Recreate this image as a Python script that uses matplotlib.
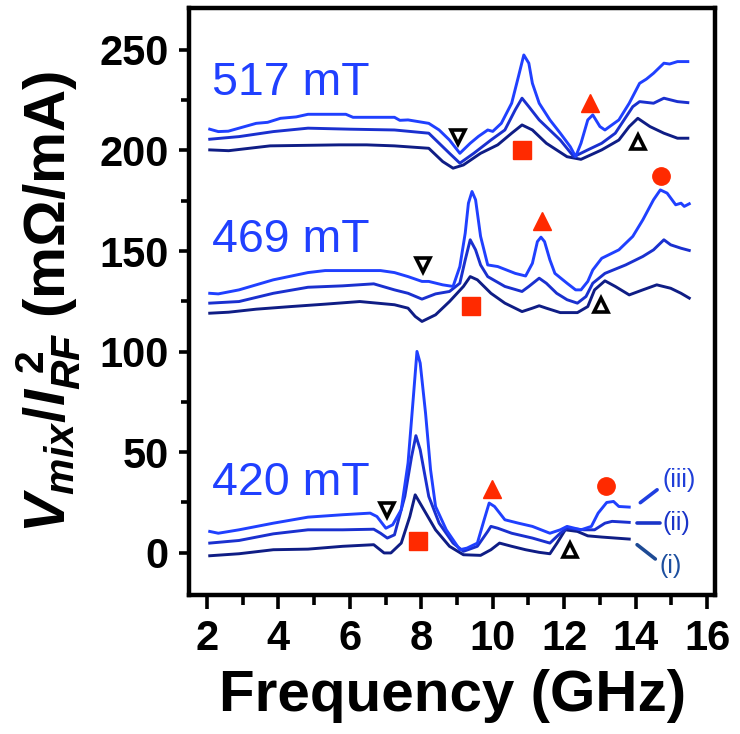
import matplotlib
matplotlib.use("Agg")
import matplotlib.pyplot as plt
from matplotlib.ticker import MultipleLocator

plt.rcParams['font.family'] = ['Liberation Sans', 'DejaVu Sans']
plt.rcParams['mathtext.fontset'] = 'custom'
plt.rcParams['mathtext.it'] = 'Liberation Sans:italic:bold'
plt.rcParams['mathtext.rm'] = 'Liberation Sans:bold'
plt.rcParams['mathtext.bf'] = 'Liberation Sans:bold'

# ---------------- data: mixing voltage spectra at three fields ----------------
# 517 mT
f517_iii = [2.08, 2.32, 2.60, 2.90, 3.38, 3.70, 4.06, 4.50, 4.83, 5.89, 6.09, 6.80, 7.25, 7.40, 7.63,
            8.21, 8.50, 8.79, 9.08, 9.37, 9.60, 9.86, 10.00, 10.24, 10.53, 10.72, 10.87, 11.01, 11.11,
            11.30, 11.60, 11.89, 12.17, 12.32, 12.47, 12.66, 12.80, 13.00, 13.14, 13.53, 13.82, 14.11,
            14.30, 14.50, 14.79, 14.95, 15.17, 15.46]
v517_iii = [210.6, 209.4, 209.6, 211.1, 213.5, 214.0, 216.0, 216.7, 218.0, 218.0, 216.5, 216.5, 216.5, 215.0, 215.2,
            213.5, 210.2, 205.2, 198.6, 203.6, 207.0, 210.2, 209.5, 213.5, 223.5, 236.8, 247.5, 243.4, 233.4,
            223.5, 215.2, 208.6, 201.9, 196.9, 203.6, 215.2, 217.7, 211.9, 210.2, 215.2, 223.5, 233.4,
            235.5, 238.4, 243.4, 243.0, 244.2, 244.2]
f517_ii = [2.08, 2.90, 3.86, 4.83, 5.99, 7.25, 8.21, 8.79, 9.08, 9.47, 9.95, 10.34, 10.63, 10.82,
           11.01, 11.30, 11.89, 12.27, 12.66, 13.05, 13.43, 13.92, 14.11, 14.50, 14.79, 15.17, 15.46]
v517_ii = [205.6, 206.9, 209.4, 211.1, 210.6, 210.2, 208.6, 198.6, 193.7, 198.6, 205.2, 210.2, 220.2, 226.0,
           221.8, 215.2, 205.2, 196.9, 200.3, 203.6, 208.6, 221.8, 224.3, 223.5, 226.0, 224.3, 223.8]
f517_i = [2.08, 2.61, 3.77, 5.70, 6.47, 7.25, 8.21, 8.60, 8.89, 9.18, 9.66, 10.14, 10.53, 10.82,
          11.11, 11.50, 12.08, 12.47, 13.05, 13.53, 13.82, 14.06, 14.40, 14.79, 15.17, 15.46]
v517_i = [200.3, 199.9, 202.3, 202.8, 202.8, 202.3, 201.1, 194.5, 191.2, 192.8, 198.6, 202.8, 208.6, 212.7,
          210.2, 203.6, 196.9, 195.6, 200.3, 205.2, 211.9, 216.0, 211.9, 208.6, 206.1, 206.1]

# 469 mT
f469_iii = [2.08, 2.32, 2.90, 3.86, 4.83, 5.31, 6.86, 7.25, 7.63, 8.02, 8.21, 8.60, 8.89, 9.08, 9.23,
            9.32, 9.42, 9.52, 9.66, 9.86, 10.14, 10.63, 10.92, 11.11, 11.25, 11.35, 11.45, 11.60, 11.74,
            12.08, 12.32, 12.47, 12.66, 12.80, 13.05, 13.53, 13.92, 14.20, 14.50, 14.69, 14.88, 15.12,
            15.27, 15.36, 15.50]
v469_iii = [129.0, 128.7, 130.7, 135.7, 139.3, 140.3, 140.3, 139.3, 137.3, 134.9, 134.9, 133.2, 132.4, 142.3, 158.9,
            173.8, 179.6, 175.5, 157.3, 143.1, 142.3, 138.9, 137.6, 143.9, 154.7, 156.9, 154.7, 145.6, 138.9,
            134.0, 130.7, 130.7, 134.9, 140.6, 146.4, 150.6, 157.3, 165.5, 175.5, 180.4, 178.8, 173.0,
            173.8, 172.2, 173.5]
f469_ii = [2.08, 2.90, 3.86, 4.83, 5.80, 6.67, 7.25, 7.63, 8.02, 8.40, 8.79, 9.08, 9.23, 9.37, 9.52,
           9.66, 9.86, 10.34, 10.82, 11.01, 11.30, 11.50, 11.79, 12.08, 12.37, 12.61, 12.80, 13.14,
           13.72, 14.20, 14.50, 14.79, 14.98, 15.27, 15.50]
v469_ii = [124.1, 124.9, 129.0, 132.0, 132.7, 133.7, 130.7, 129.0, 126.1, 128.7, 129.9, 134.0, 145.6, 155.6, 150.6,
           143.1, 137.3, 132.4, 129.9, 132.4, 136.5, 134.0, 129.0, 125.8, 124.1, 127.4, 134.0, 138.9,
           143.1, 147.3, 150.6, 155.6, 153.1, 151.4, 150.3]
f469_i = [2.08, 2.61, 3.38, 4.35, 5.31, 6.28, 7.25, 7.63, 7.83, 8.02, 8.40, 8.79, 9.18, 9.37, 9.57,
          9.95, 10.34, 10.82, 11.11, 11.30, 11.50, 11.89, 12.37, 12.66, 12.85, 13.14, 13.43, 13.82,
          14.20, 14.59, 14.98, 15.27, 15.50]
v469_i = [119.1, 119.6, 121.1, 122.4, 123.6, 124.9, 123.3, 121.6, 117.5, 115.0, 118.3, 124.9, 132.4, 137.3, 135.7,
          129.0, 124.1, 119.9, 121.6, 122.8, 121.6, 119.4, 119.4, 122.4, 130.7, 135.2, 132.4, 128.2,
          130.7, 133.2, 131.5, 129.0, 126.6]

# 420 mT
f420_iii = [2.08, 2.32, 2.90, 3.86, 4.83, 5.80, 6.57, 6.76, 7.01, 7.20, 7.44, 7.63, 7.78, 7.88, 7.97,
            8.12, 8.26, 8.40, 8.70, 9.08, 9.28, 9.57, 9.76, 9.90, 10.05, 10.34, 10.72, 11.11, 11.60,
            11.89, 12.08, 12.47, 12.76, 12.95, 13.19, 13.38, 13.53, 13.82]
v420_iii = [10.6, 9.7, 11.4, 14.7, 17.7, 18.9, 19.7, 18.0, 12.2, 13.9, 21.4, 44.6, 77.7, 100.1, 94.3,
            69.4, 41.3, 23.0, 11.4, 1.5, 2.3, 4.8, 16.4, 24.7, 23.0, 16.4, 14.7, 13.1, 9.7,
            11.4, 13.1, 11.4, 13.1, 19.7, 25.0, 25.5, 23.0, 22.7]
f420_ii = [2.08, 2.90, 3.86, 4.83, 5.80, 6.67, 6.86, 7.05, 7.25, 7.54, 7.73, 7.85, 7.97, 8.21, 8.50,
           8.89, 9.18, 9.57, 9.86, 9.95, 10.14, 10.53, 11.11, 11.60, 11.89, 12.08, 12.56, 12.85,
           13.14, 13.34, 13.82]
v420_ii = [4.8, 6.1, 9.4, 11.4, 11.4, 11.7, 9.7, 7.3, 8.9, 28.0, 47.9, 58.2, 51.2, 28.0, 14.7,
           4.8, 0.7, 3.2, 10.6, 13.1, 12.2, 9.7, 7.3, 4.8, 9.7, 12.2, 11.4, 11.4,
           14.7, 15.6, 15.1]
f420_i = [2.08, 2.90, 3.86, 4.83, 5.80, 6.67, 6.96, 7.15, 7.44, 7.68, 7.83, 8.02, 8.40, 8.79, 9.18,
          9.66, 9.95, 10.19, 10.53, 10.92, 11.30, 11.60, 11.80, 12.03, 12.37, 12.66, 13.05, 13.43, 13.82]
v420_i = [-1.5, -0.5, 1.5, 1.8, 3.2, 4.0, -0.1, -0.1, 4.8, 18.0, 28.8, 23.0, 11.4, 3.2, -1.0,
          -1.3, 1.5, 4.8, 3.2, 1.5, 0.2, -0.5, 4.8, 11.4, 10.6, 8.4, 7.8, 7.3, 6.8]

field_labels = ["517 mT", "469 mT", "420 mT"]
field_label_y = [233.6, 155.6, 34.6]
trace_names = ["(iii)", "(ii)", "(i)"]

# mode markers: (frequency, level)
mode_square = [(10.82, 200.3), (9.39, 122.8), (7.90, 5.7)]
mode_triangle = [(12.71, 223.5), (11.37, 164.7), (9.97, 31.7)]
mode_circle = [(14.71, 187.4), (13.16, 33.1)]
mode_open_down = [(9.03, 206.9), (8.05, 143.1), (7.03, 21.4)]
mode_open_up = [(14.06, 204.4), (13.02, 123.3), (12.16, 1.5)]

# ---------------- styling ----------------
c_iii = '#2040ff'
c_ii = '#1a30cf'
c_i = '#0f1d85'
c_red = '#ff2a00'
lw = 2.1

fig = plt.figure(figsize=(7.4, 7.34), dpi=100)
ax = fig.add_axes([0.2554, 0.1894, 0.7108, 0.7993])

groups = [
    (f517_iii, v517_iii, f517_ii, v517_ii, f517_i, v517_i),
    (f469_iii, v469_iii, f469_ii, v469_ii, f469_i, v469_i),
    (f420_iii, v420_iii, f420_ii, v420_ii, f420_i, v420_i),
]
for g in groups:
    ax.plot(g[4], g[5], color=c_i, lw=lw, solid_joinstyle='round', zorder=3)
    ax.plot(g[2], g[3], color=c_ii, lw=lw, solid_joinstyle='round', zorder=4)
    ax.plot(g[0], g[1], color=c_iii, lw=lw, solid_joinstyle='round', zorder=5)

for lab, yy in zip(field_labels, field_label_y):
    ax.text(2.13, yy, lab, color='#2040ff', fontsize=33.5, ha='left', va='center')

ax.plot(*zip(*mode_square), ls='none', marker='s', ms=12.5, color=c_red, zorder=6)
ax.plot(*zip(*mode_triangle), ls='none', marker='^', ms=13, color=c_red, zorder=6)
ax.plot(*zip(*mode_circle), ls='none', marker='o', ms=12.5, color=c_red, zorder=6)
ax.plot(*zip(*mode_open_down), ls='none', marker='v', ms=9.5, mfc='white', mec='black', mew=2.6, zorder=6)
ax.plot(*zip(*mode_open_up), ls='none', marker='^', ms=9.5, mfc='white', mec='black', mew=2.6, zorder=6)

# trace identifiers at the end of the 420 mT curves
ax.plot([14.13, 14.60], [24.9, 31.3], color='#1f3ee0', lw=2.6, solid_capstyle='round')
ax.plot([14.04, 14.69], [14.8, 14.8], color='#1a34c8', lw=2.6, solid_capstyle='round')
ax.plot([14.04, 14.55], [4.0, -3.1], color='#1d4a94', lw=2.6, solid_capstyle='round')
ax.text(14.74, 36.3, trace_names[0], color='#1f3ed8', fontsize=18, ha='left', va='center')
ax.text(14.74, 14.8, trace_names[1], color='#1a34c8', fontsize=18, ha='left', va='center')
ax.text(14.67, -6.8, trace_names[2], color='#1d4f9f', fontsize=18, ha='left', va='center')

ax.set_xlim(1.5, 16.22)
ax.set_ylim(-21, 270.7)
ax.xaxis.set_major_locator(MultipleLocator(2))
ax.xaxis.set_minor_locator(MultipleLocator(1))
ax.yaxis.set_major_locator(MultipleLocator(50))
ax.yaxis.set_minor_locator(MultipleLocator(25))

for side in ['left', 'bottom', 'right', 'top']:
    ax.spines[side].set_linewidth(3.2)
ax.tick_params(which='both', direction='out', width=2.6, top=False, right=False)
ax.tick_params(axis='x', which='major', length=10, pad=7, labelsize=30)
ax.tick_params(axis='x', which='minor', length=7.5)
ax.tick_params(axis='y', which='major', length=7.5, pad=7, labelsize=30)
ax.tick_params(axis='y', which='minor', length=6)
for lbl in ax.get_xticklabels() + ax.get_yticklabels():
    lbl.set_fontweight('bold')

fig.text(0.611, 0.032, 'Frequency (GHz)', fontsize=42, fontweight='bold',
         ha='center', va='baseline')
fig.text(0.066, 0.589, r'$V_{mix}/I_{RF}^{\ 2}$ (mΩ/mA)', fontsize=42, fontweight='bold',
         rotation=90, ha='center', va='center')

fig.savefig('out.png', dpi=100)
